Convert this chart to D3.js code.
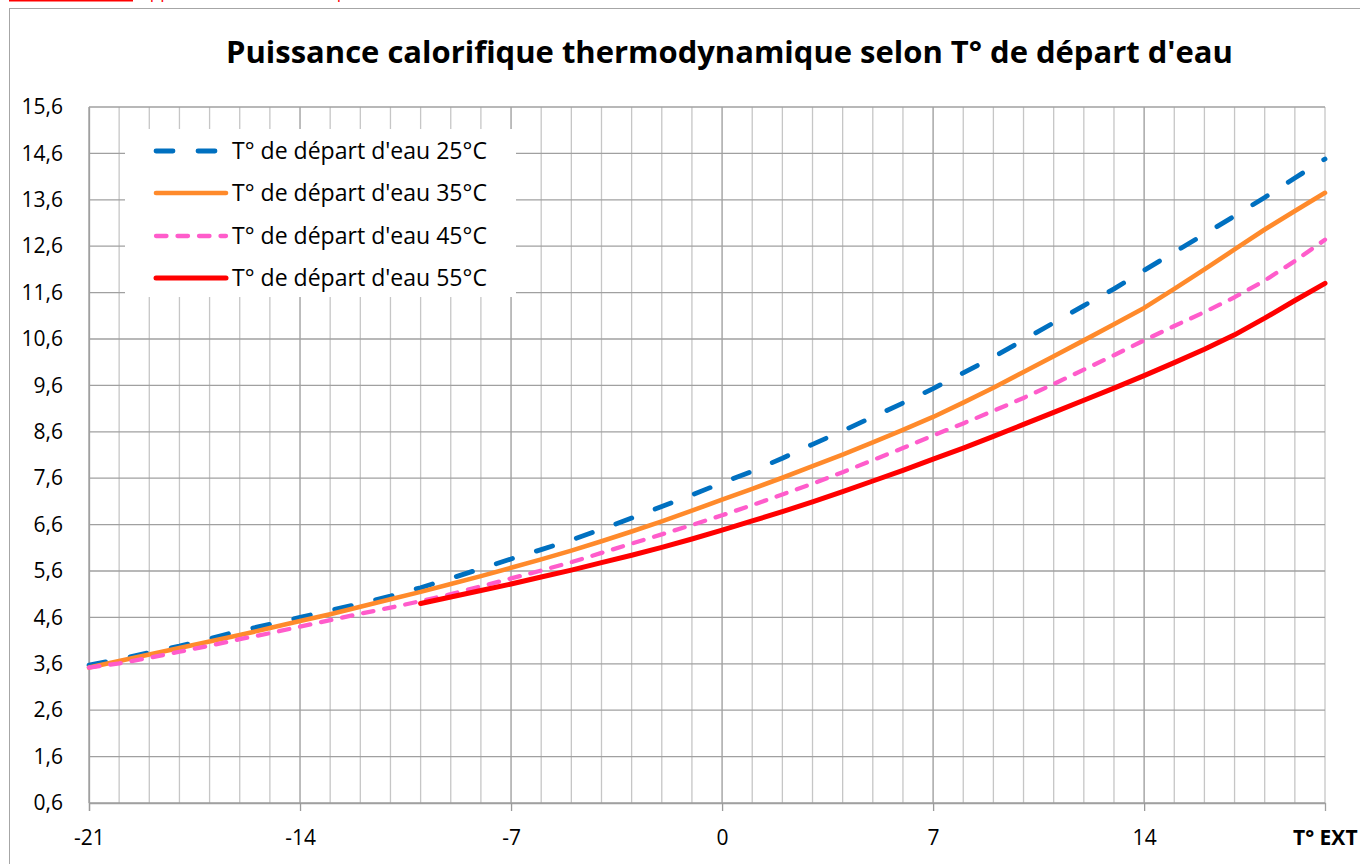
<!DOCTYPE html>
<html>
<head>
<meta charset="utf-8">
<script src="https://cdn.jsdelivr.net/npm/d3@7"></script>
<style>
  html, body { margin: 0; padding: 0; background: #fff; }
  svg { display: block; font-family: "Open Sans", Lato, sans-serif; }
</style>
</head>
<body>
<svg id="chart" width="1360" height="864"></svg>
<script>
// ---------- DATA ----------
const tempsExt = [-21,-20,-19,-18,-17,-16,-15,-14,-13,-12,-11,-10,-9,-8,-7,-6,-5,-4,-3,-2,-1,0,1,2,3,4,5,6,7,8,9,10,11,12,13,14,15,16,17,18,19,20];

const eau25 = [3.57,3.70,3.84,3.98,4.14,4.31,4.45,4.60,4.75,4.90,5.06,5.24,5.44,5.65,5.86,6.06,6.27,6.50,6.74,6.99,7.24,7.50,7.75,8.03,8.33,8.62,8.92,9.22,9.53,9.87,10.21,10.58,10.95,11.32,11.68,12.08,12.47,12.86,13.25,13.65,14.07,14.48];
const eau35 = [3.52,3.66,3.80,3.94,4.08,4.22,4.37,4.52,4.67,4.83,4.99,5.15,5.32,5.49,5.67,5.85,6.04,6.24,6.45,6.67,6.90,7.14,7.37,7.61,7.86,8.11,8.37,8.64,8.92,9.23,9.55,9.89,10.23,10.57,10.92,11.27,11.68,12.10,12.53,12.96,13.36,13.75];
const eau45 = [3.52,3.61,3.73,3.86,3.99,4.13,4.26,4.40,4.54,4.68,4.81,4.95,5.10,5.27,5.44,5.61,5.79,5.99,6.19,6.39,6.59,6.80,7.02,7.25,7.48,7.73,7.99,8.25,8.52,8.78,9.05,9.33,9.63,9.94,10.25,10.57,10.88,11.18,11.50,11.86,12.28,12.74];
const eau55 = [null,null,null,null,null,null,null,null,null,null,null,4.90,5.04,5.18,5.32,5.47,5.62,5.78,5.94,6.11,6.29,6.48,6.68,6.88,7.09,7.31,7.54,7.77,8.01,8.25,8.50,8.76,9.02,9.28,9.54,9.81,10.09,10.38,10.69,11.05,11.43,11.80];

const seriesNames = ["T° de départ d'eau 25°C","T° de départ d'eau 35°C","T° de départ d'eau 45°C","T° de départ d'eau 55°C"];
const yTicks = [0.6,1.6,2.6,3.6,4.6,5.6,6.6,7.6,8.6,9.6,10.6,11.6,12.6,13.6,14.6,15.6];
const xTicks = [-21,-14,-7,0,7,14];
const xMinor = [-21,-20,-19,-18,-17,-16,-15,-14,-13,-12,-11,-10,-9,-8,-7,-6,-5,-4,-3,-2,-1,0,1,2,3,4,5,6,7,8,9,10,11,12,13,14,15,16,17,18,19,20];
const titleText = "Puissance calorifique thermodynamique selon T° de départ d'eau";
const xAxisTitle = "T° EXT";
const headerText = "Application de la notice : puissance";

// ---------- STYLES ----------
const styles = [
  {color:"#0070C0", width:4.8, dash:"17,25"},
  {color:"#FF8A2B", width:4.6, dash:null},
  {color:"#FF5CCB", width:4.3, dash:"10.5,11"},
  {color:"#FF0000", width:5, dash:null}
];

const svg = d3.select("#chart");
const x = d3.scaleLinear().domain([-21, 20]).range([89, 1325]);
const y = d3.scaleLinear().domain([0.6, 15.6]).range([803, 107]);
const fr = d3.formatLocale({decimal:",", thousands:" ", grouping:[3], currency:["","€"], minus:"-"});
const fmt = fr.format(".1f");

function fitWidth(sel, target) {
  const node = sel.node();
  const fs = parseFloat(sel.style("font-size"));
  const w = node.getComputedTextLength();
  if (w > 0) sel.style("font-size", (fs * target / w) + "px");
}

// header fragments (cut off at top, as in the reference)
svg.append("line").attr("x1",9).attr("x2",133).attr("y1",0.8).attr("y2",0.8)
  .attr("stroke","#FF0000").attr("stroke-width",1.6);
svg.append("text").attr("x",139).attr("y",-2).attr("fill","#FF0000")
  .style("font-size","17px").text(headerText);

// chart border
svg.append("rect").attr("x",9.5).attr("y",8.5).attr("width",1400).attr("height",900)
  .attr("fill","none").attr("stroke","#a6a6a6").attr("stroke-width",1);

// title
const title = svg.append("text").attr("x",729.5).attr("y",63).attr("text-anchor","middle")
  .style("font-size","28px").style("font-weight","bold").attr("fill","#000").text(titleText);
fitWidth(title, 1007);

// gridlines
const g = svg.append("g");
g.selectAll("line.vminor").data(xMinor).join("line")
  .attr("x1", d => x(d)).attr("x2", d => x(d)).attr("y1", y(15.6)).attr("y2", y(0.6))
  .attr("stroke", d => xTicks.includes(d) ? "#9a9a9a" : "#c6c6c6")
  .attr("stroke-width", 1.3);
g.selectAll("line.h").data(yTicks).join("line")
  .attr("x1", x(-21)).attr("x2", x(20)).attr("y1", d => y(d)).attr("y2", d => y(d))
  .attr("stroke", "#a0a0a0").attr("stroke-width", 1.3);

// axes
const xAxis = d3.axisBottom(x).tickValues(xTicks).tickSize(8).tickFormat(d => String(d));
const gx = svg.append("g").attr("transform", `translate(0,${y(0.6)})`).call(xAxis);
gx.select(".domain").attr("stroke","#a0a0a0").attr("stroke-width",1.3);
gx.selectAll(".tick line").attr("stroke","#9a9a9a").attr("stroke-width",1.3);
gx.selectAll(".tick text").attr("y",27).attr("dy","0.71em").style("font-size","21px")
  .style("font-family","'Open Sans', sans-serif").attr("fill","#000");

const yAxis = d3.axisLeft(y).tickValues(yTicks).tickSize(0).tickPadding(26).tickFormat(fmt);
const gy = svg.append("g").attr("transform", `translate(${x(-21)},0)`).call(yAxis);
gy.select(".domain").attr("stroke","#a0a0a0").attr("stroke-width",1.3);
gy.selectAll(".tick text").style("font-size","21px").style("font-family","'Open Sans', sans-serif").attr("fill","#000");

svg.append("text").attr("x",1293).attr("y",845).style("font-size","21px").style("font-weight","bold")
  .attr("fill","#000").text(xAxisTitle);

// lines
const allSeries = [eau25, eau35, eau45, eau55];
const line = d3.line()
  .defined(d => d[1] !== null)
  .x(d => x(d[0])).y(d => y(d[1]));
allSeries.forEach((s, i) => {
  svg.append("path")
    .datum(tempsExt.map((t, j) => [t, s[j]]))
    .attr("d", line)
    .attr("fill","none")
    .attr("stroke", styles[i].color)
    .attr("stroke-width", styles[i].width)
    .attr("stroke-linecap","round")
    .attr("stroke-linejoin","round")
    .attr("stroke-dasharray", styles[i].dash);
});

// legend
const lg = svg.append("g");
lg.append("rect").attr("x",125).attr("y",129).attr("width",391).attr("height",168).attr("fill","#fff");
const rowsY = [151, 193, 236, 278];
seriesNames.forEach((name, i) => {
  lg.append("line").attr("x1",156).attr("x2",226).attr("y1",rowsY[i]).attr("y2",rowsY[i])
    .attr("stroke", styles[i].color).attr("stroke-width", styles[i].width)
    .attr("stroke-linecap","round").attr("stroke-dasharray", styles[i].dash);
  const t = lg.append("text").attr("x",232).attr("y",rowsY[i]).attr("dy","0.35em")
    .style("font-size","20px").attr("fill","#000").text(name);
  fitWidth(t, 255);
});
</script>
</body>
</html>
